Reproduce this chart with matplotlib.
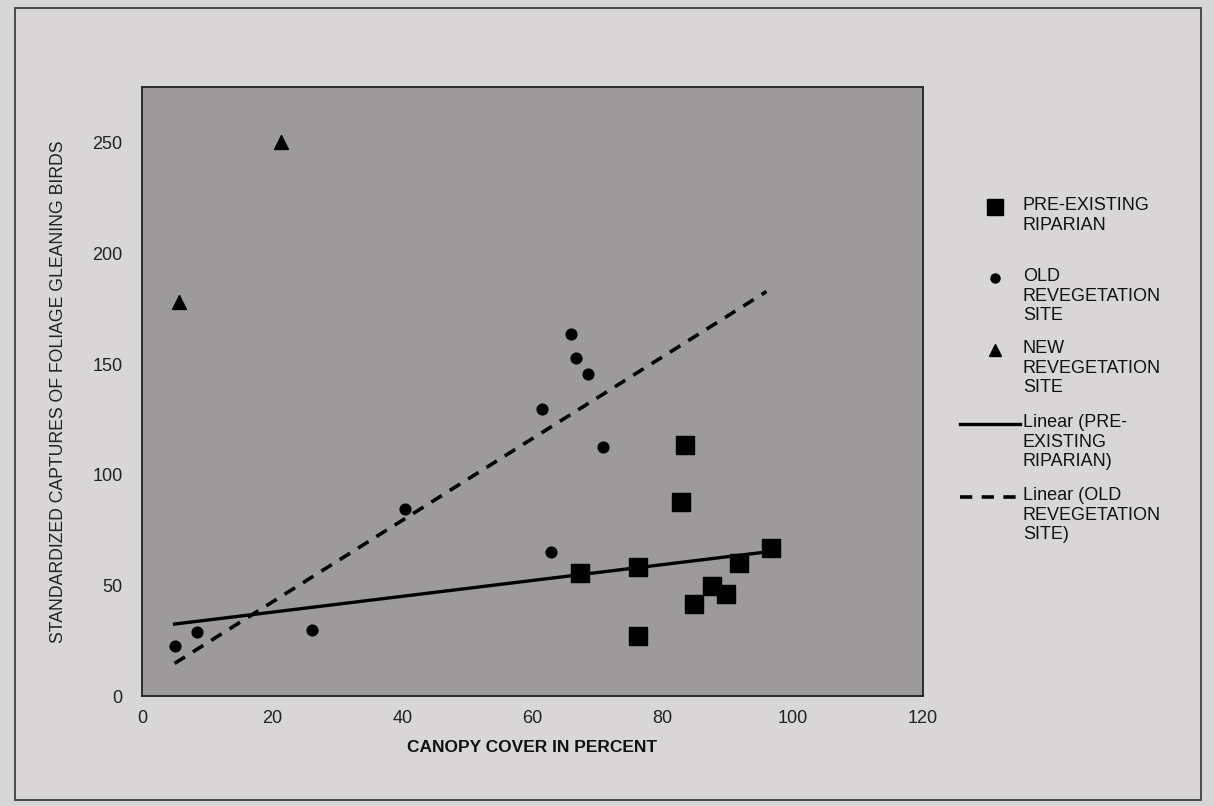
import numpy as np
import matplotlib
matplotlib.use("Agg")
import matplotlib.pyplot as plt
from matplotlib.lines import Line2D
from matplotlib.patches import Rectangle

plt.rcParams["font.family"] = ["Liberation Sans", "DejaVu Sans"]

# ------------------------------------------------------------------
# Data (canopy cover %, standardized captures)
# ------------------------------------------------------------------
RIPARIAN_X = [83.4, 82.9, 67.3, 76.2, 96.7, 91.7, 84.8, 87.6, 89.7, 76.3]
RIPARIAN_Y = [113.4, 87.9, 55.7, 58.5, 67.1, 60.3, 41.9, 49.8, 46.0, 27.1]

OLD_X = [5.1, 8.5, 26.1, 40.4, 61.5, 62.9, 65.9, 66.7, 68.6, 70.8]
OLD_Y = [22.6, 29.0, 30.0, 84.6, 129.6, 65.2, 163.6, 152.6, 145.6, 112.7]

NEW_X = [5.7, 21.4]
NEW_Y = [178.0, 250.0]

# Excel-style trendlines drawn over this canopy range
TREND_RANGE = [5.0, 96.0]

LEGEND_LABELS = [
    "PRE-EXISTING\nRIPARIAN",
    "OLD\nREVEGETATION\nSITE",
    "NEW\nREVEGETATION\nSITE",
    "Linear (PRE-\nEXISTING\nRIPARIAN)",
    "Linear (OLD\nREVEGETATION\nSITE)",
]

X_TICKS = [0, 20, 40, 60, 80, 100, 120]
Y_TICKS = [0, 50, 100, 150, 200, 250]


def main():
    fig = plt.figure(figsize=(12.14, 8.06), dpi=100, facecolor="#d8d6d7")
    ax = fig.add_axes([0.117, 0.136, 0.643, 0.756])
    ax.set_facecolor("#9c9a9b")

    # outer frame of the chart
    fig.add_artist(Rectangle((0.012, 0.008), 0.977, 0.982, transform=fig.transFigure,
                             fill=False, edgecolor="#333333", lw=1.2))

    ax.scatter(RIPARIAN_X, RIPARIAN_Y, marker="s", s=150, color="black", zorder=3)
    ax.scatter(OLD_X, OLD_Y, marker="o", s=60, color="black", zorder=3)
    ax.scatter(NEW_X, NEW_Y, marker="^", s=100, color="black", zorder=3)

    xr = np.array(TREND_RANGE)
    m1, b1 = np.polyfit(RIPARIAN_X, RIPARIAN_Y, 1)
    ax.plot(xr, m1 * xr + b1, color="black", lw=2.4, zorder=2)
    m2, b2 = np.polyfit(OLD_X, OLD_Y, 1)
    ax.plot(xr, m2 * xr + b2, color="black", lw=2.6, linestyle=(0, (3.4, 2.6)), zorder=2)

    ax.set_xlim(0, 120)
    ax.set_ylim(0, 275)
    ax.set_xticks(X_TICKS)
    ax.set_yticks(Y_TICKS)
    ax.tick_params(length=0, labelsize=13, colors="#222222")
    ax.tick_params(axis="x", pad=10)
    ax.tick_params(axis="y", pad=14)
    for s in ax.spines.values():
        s.set_color("#222222")
        s.set_linewidth(1.3)

    ax.set_xlabel("CANOPY COVER IN PERCENT", fontsize=12.5, fontweight="bold",
                  labelpad=9, color="#111111")
    ax.set_ylabel("STANDARDIZED CAPTURES OF FOLIAGE GLEANING BIRDS", fontsize=12.7,
                  labelpad=18, color="#222222")

    # legend drawn by hand, one entry per block
    W, H = 1214.0, 806.0
    ys = [207, 278, 350, 424, 497]
    handles = [
        dict(marker="s", ms=11, ls="none"),
        dict(marker="o", ms=6.5, ls="none"),
        dict(marker="^", ms=9, ls="none"),
        dict(ls="-", lw=2.4),
        dict(ls=(0, (3.4, 2.6)), lw=2.6),
    ]
    for y, lab, h in zip(ys, LEGEND_LABELS, handles):
        yf = 1 - y / H
        if h.get("marker"):
            fig.add_artist(Line2D([995 / W], [yf], color="black", transform=fig.transFigure, **h))
        else:
            fig.add_artist(Line2D([960 / W, 1020 / W], [yf, yf], color="black",
                                  transform=fig.transFigure, **h))
        fig.text(1023 / W, yf + 10 / H, lab, fontsize=13, va="top", ha="left",
                 linespacing=1.2, color="#111111")

    fig.savefig("out.png", dpi=100, facecolor=fig.get_facecolor())
    plt.close(fig)


if __name__ == "__main__":
    main()
